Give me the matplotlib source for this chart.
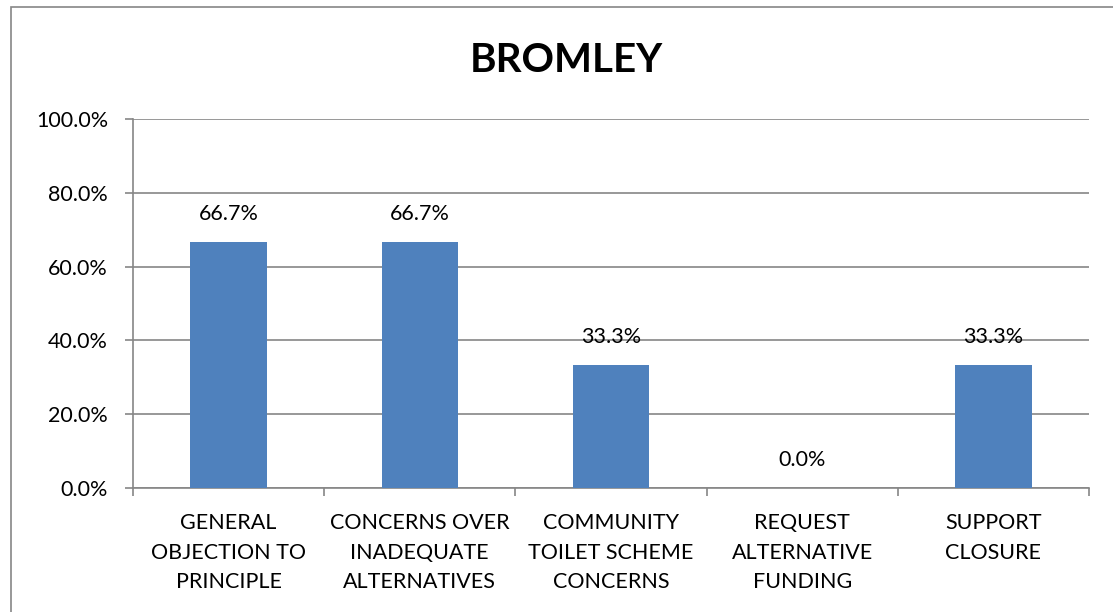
import matplotlib.pyplot as plt
from matplotlib.patches import Rectangle
from matplotlib.ticker import FuncFormatter

categories = ["GENERAL\nOBJECTION TO\nPRINCIPLE", "CONCERNS OVER\nINADEQUATE\nALTERNATIVES",
              "COMMUNITY\nTOILET SCHEME\nCONCERNS", "REQUEST\nALTERNATIVE\nFUNDING",
              "SUPPORT\nCLOSURE"]
values = [66.7, 66.7, 33.3, 0.0, 33.3]
yticks = [0, 20, 40, 60, 80, 100]

plt.rcParams['font.family'] = ['Lato', 'DejaVu Sans']
grey = '#868686'
fs = 15.5

fig = plt.figure(figsize=(11.13, 6.12), dpi=100)
fig.patches.append(Rectangle((11 / 1113, -0.1), 1.2, 1.1 - 7 / 612,
                             transform=fig.transFigure, fill=False,
                             edgecolor=grey, linewidth=1.2))
ax = fig.add_axes([133 / 1113, 1 - 488 / 612, 956 / 1113, 369 / 612])

x = range(len(categories))
ax.bar(x, values, width=0.4, color='#4F81BD', zorder=3)
for i, v in enumerate(values):
    ax.annotate(f"{v:.1f}%", (i, v), xytext=(0, 20), textcoords='offset points',
                ha='center', va='center', fontsize=fs, zorder=4)

ax.set_xlim(-0.5, len(categories) - 0.5)
ax.set_ylim(0, 100)
ax.set_yticks(yticks)
ax.yaxis.set_major_formatter(FuncFormatter(lambda v, p: f"{v:.1f}%"))
ax.yaxis.grid(True, color=grey, linewidth=1.2, zorder=0)
ax.set_xticks([i - 0.5 for i in range(len(categories) + 1)], minor=False)
ax.set_xticklabels([])
ax.set_xticks(list(x), minor=True)
ax.set_xticklabels(categories, minor=True, fontsize=fs, linespacing=1.6)
ax.tick_params(axis='x', which='minor', length=0, pad=18)
ax.tick_params(axis='x', which='major', length=6, color=grey, width=1.2)
ax.tick_params(axis='y', length=6, color=grey, width=1.2, labelsize=fs, pad=12)
for s in ['top', 'right']:
    ax.spines[s].set_visible(False)
for s in ['left', 'bottom']:
    ax.spines[s].set_color(grey)
    ax.spines[s].set_linewidth(1.2)

fig.text(566 / 1113, 1 - 60 / 612, "BROMLEY", ha='center', va='center',
         fontsize=29, fontweight='bold')

fig.savefig('out.png', dpi=100)
